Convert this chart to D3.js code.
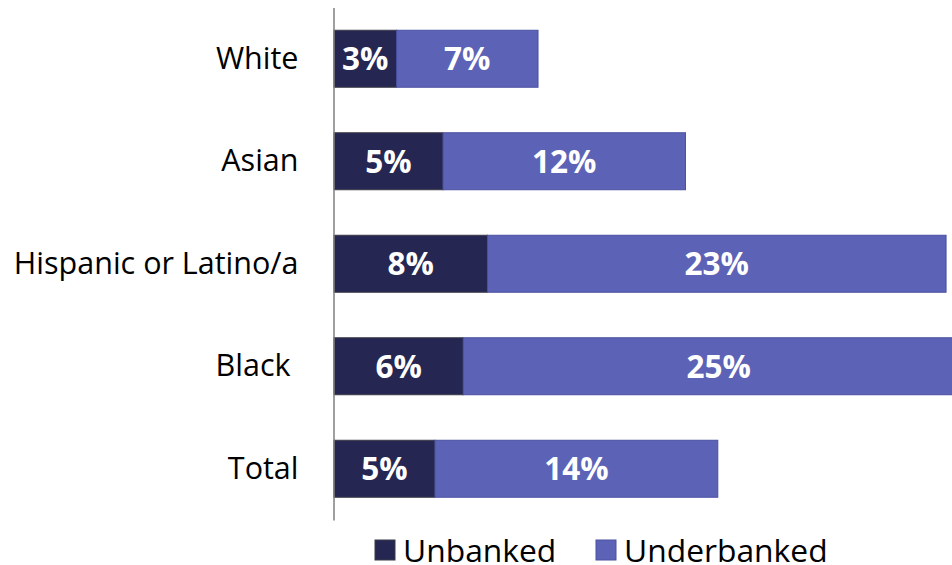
<!DOCTYPE html>
<html>
<head>
<meta charset="utf-8">
<script src="https://cdn.jsdelivr.net/npm/d3@7"></script>
<style>
  body { margin: 0; background: #fff; }
  text { font-family: 'Open Sans', 'Noto Sans', sans-serif; }
</style>
</head>
<body>
<script>
// Chart data
const categories = ['White', 'Asian', 'Hispanic or Latino/a', 'Black\u00a0', 'Total'];
const unbanked = [3.1, 5.4, 7.6, 6.4, 5.0];
const underbanked = [7.0, 12.0, 22.7, 25.3, 14.0];
const seriesNames = ['Unbanked', 'Underbanked'];
const colors = ['#252752', '#5c63b6'];
const strokes = ['#3b3b48', '#4a50a2'];

const width = 952;
const height = 565;

const svg = d3.select('body')
    .append('svg')
    .attr('width', width)
    .attr('height', height);

// Scales
const xscale = d3.scaleLinear().domain([0, 30]).range([334, 940]);
const yscale = d3.scaleBand()
    .domain(categories)
    .range([7.5, 520])
    .paddingInner(0.444)
    .paddingOuter(0.222);

// stacked rows
const rows = categories.map((c, i) => ({ cat: c, vals: [unbanked[i], underbanked[i]] }));
const stack = d3.stack().keys([0, 1]).value((d, k) => d.vals[k]);
const layers = stack(rows);

const g = svg.append('g');
layers.forEach((layer, k) => {
    const lg = g.append('g');
    lg.selectAll('rect')
        .data(layer)
        .join('rect')
        .attr('x', (d) => xscale(d[0]))
        .attr('y', (d) => yscale(d.data.cat))
        .attr('width', (d) => xscale(d[1]) - xscale(d[0]))
        .attr('height', yscale.bandwidth())
        .attr('fill', colors[k])
        .attr('stroke', strokes[k])
        .attr('stroke-width', 1);

    lg.selectAll('text')
        .data(layer)
        .join('text')
        .attr('x', (d) => (xscale(d[0]) + xscale(d[1])) / 2)
        .attr('y', (d) => yscale(d.data.cat) + yscale.bandwidth() / 2)
        .attr('dy', '0.36em')
        .attr('text-anchor', 'middle')
        .attr('fill', '#fff')
        .attr('font-weight', 'bold')
        .attr('font-size', 31.5)
        .text((d) => Math.round(d[1] - d[0]) + '%');
});

// y axis (only the vertical line and labels)
const yaxis = d3.axisLeft(yscale).tickSize(0).tickPadding(35);
const g_yaxis = svg.append('g')
    .attr('transform', 'translate(333.5,0)')
    .call(yaxis);
g_yaxis.select('.domain').attr('stroke', '#7f7f7f').attr('stroke-width', 1.5);
g_yaxis.selectAll('text')
    .attr('font-size', 30.5)
    .attr('fill', '#000')
    .attr('font-family', "'Open Sans', 'Noto Sans', sans-serif");

// Legend
const legendX = [375, 596];
const legend = svg.append('g');
seriesNames.forEach((name, k) => {
    legend.append('rect')
        .attr('x', legendX[k])
        .attr('y', 540)
        .attr('width', 20)
        .attr('height', 20)
        .attr('fill', colors[k])
        .attr('stroke', strokes[k]);
    legend.append('text')
        .attr('x', legendX[k] + 28)
        .attr('y', 562)
        .attr('font-size', 31.8)
        .attr('fill', '#000')
        .text(name);
});
</script>
</body>
</html>
